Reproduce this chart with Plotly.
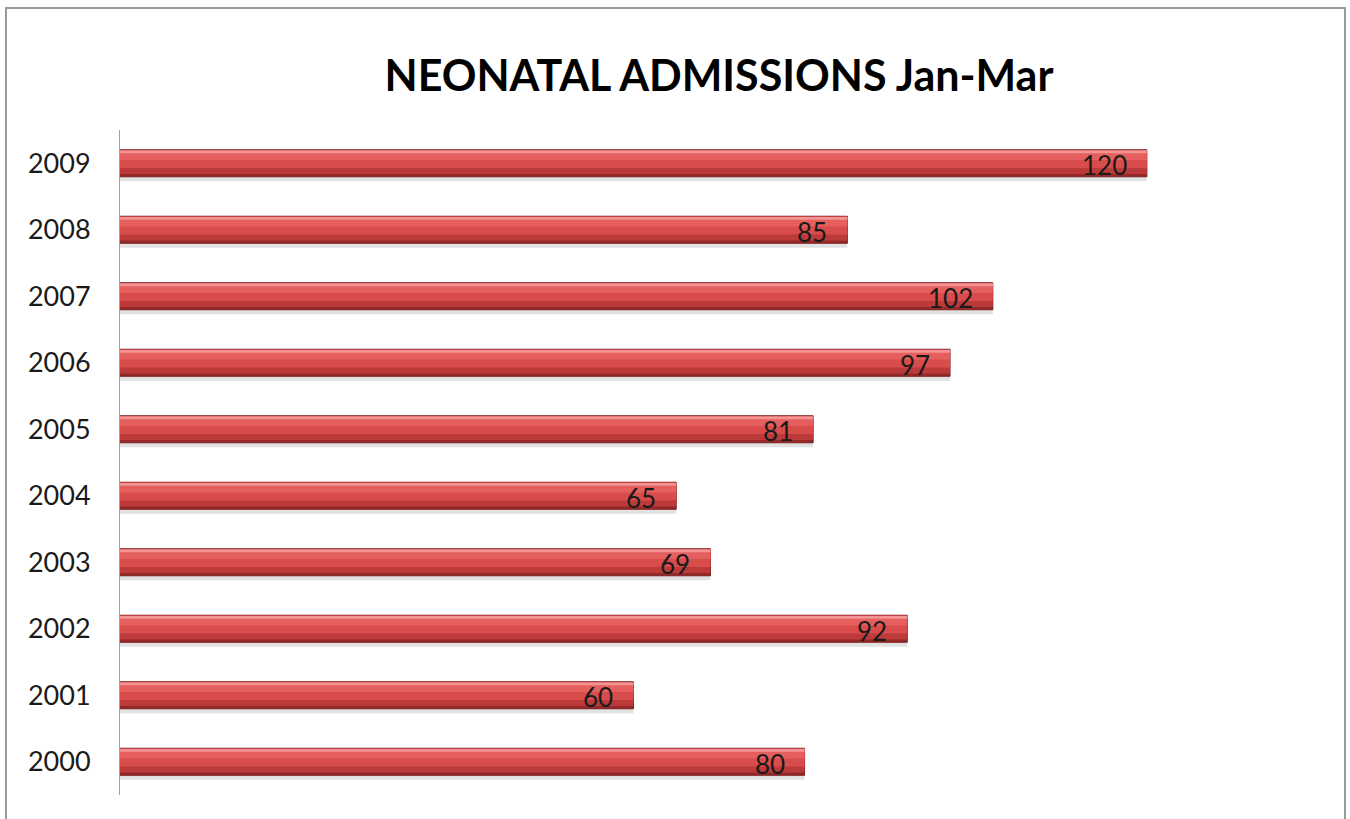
import plotly.graph_objects as go

years = [2000, 2001, 2002, 2003, 2004, 2005, 2006, 2007, 2008, 2009]
admissions = [80, 60, 92, 69, 65, 81, 97, 102, 85, 120]
tick_labels = [str(y) for y in years]
title_text = "NEONATAL ADMISSIONS Jan-Mar"

FONT = "Lato"
W, H = 1350, 819
ML, MR, MT, MB = 120, 32, 130, 24
pw = W - ML - MR
ph = H - MT - MB

fig = go.Figure()

# layered bars to imitate the bevelled 3D look
layers = [
    # (offset, width, color, line)
    (-0.27, 0.14, "rgba(150,150,150,0.28)", None),   # soft shadow
    (-0.203, 0.406, "#962828", dict(color="#7a1e1e", width=1)),
    (-0.16, 0.36, "#bd3a3a", None),
    (-0.07, 0.27, "#d84c4c", None),
    (0.05, 0.14, "#e55f5f", None),
    (0.15, 0.04, "#f29494", None),
]
for off, wd, col, ln in layers:
    fig.add_trace(go.Bar(
        x=admissions, y=years, orientation="h",
        offset=off, width=wd,
        marker=dict(color=col, line=ln if ln else dict(width=0)),
        hoverinfo="skip", showlegend=False,
    ))

annotations = []
for v, y in zip(admissions, years):
    annotations.append(dict(
        x=v, y=y, xref="x", yref="y", text=str(v), showarrow=False,
        xanchor="right", yanchor="middle", xshift=-18, yshift=-2,
        font=dict(family=FONT, size=26, color="#1a1a1a"),
    ))

def px_to_paper_x(px):
    return (px - ML) / pw

def px_to_paper_y(py):
    return (H - MB - py) / ph

fig.update_layout(
    width=W, height=H,
    margin=dict(l=ML, r=MR, t=MT, b=MB),
    barmode="overlay",
    paper_bgcolor="white", plot_bgcolor="white",
    title=dict(text="<b>" + title_text + "</b>", x=0.5, xref="paper",
               y=1 - 76 / H, yanchor="middle",
               font=dict(family=FONT, size=43, color="#000000")),
    xaxis=dict(visible=False, range=[0, 140], fixedrange=True),
    yaxis=dict(range=[1999.5, 2009.5], tickvals=years, ticktext=tick_labels,
               showline=True, linecolor="#a0a0a0", linewidth=1,
               showgrid=False, zeroline=False, ticks="",
               ticklabelstandoff=23,
               tickfont=dict(family=FONT, size=27, color="#1a1a1a")),
    annotations=annotations,
    shapes=[dict(type="rect", xref="paper", yref="paper",
                 x0=px_to_paper_x(6), x1=px_to_paper_x(1345),
                 y0=px_to_paper_y(840), y1=px_to_paper_y(8),
                 line=dict(color="#9a9a9a", width=2), layer="below")],
)

fig.write_html("out.html", config={"displayModeBar": False},
               post_script="document.body.style.margin='0';document.body.style.overflow='hidden';")
